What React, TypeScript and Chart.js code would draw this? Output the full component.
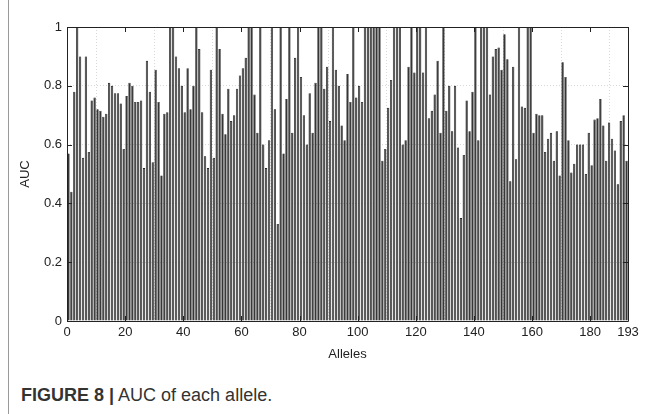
import React, { useEffect, useRef } from "react";
import { Chart, registerables } from "chart.js";

Chart.register(...registerables);

const aucValues: number[] = [
  0.57, 0.44, 0.78, 1.0, 0.9, 0.555, 0.9, 0.575, 0.75, 0.76, 0.72, 0.715, 0.695, 0.705, 0.81, 0.8, 0.775, 0.775, 0.74, 0.585, 0.765, 0.81, 0.8,
  0.745, 0.745, 0.75, 0.52, 0.885, 0.78, 0.54, 0.855, 0.745, 0.495, 0.705, 0.71, 1.0, 1.0, 0.9, 0.86, 0.8, 0.71, 0.86, 0.72, 0.8, 1.0, 0.925, 0.71, 0.56,
  0.52, 0.855, 0.555, 1.0, 0.925, 0.705, 0.635, 0.79, 0.68, 0.7, 0.79, 0.835, 0.86, 0.895, 1.0, 1.0, 0.77, 0.64, 1.0, 0.6, 0.52, 0.615, 1.0, 0.72, 0.33,
  1.0, 0.57, 0.755, 1.0, 0.64, 0.895, 1.0, 0.83, 0.7, 0.6, 0.775, 0.64, 0.81, 1.0, 1.0, 0.79, 0.865, 0.68, 1.0, 0.855, 0.8, 0.665, 0.615, 0.84, 0.745,
  1.0, 0.76, 0.8, 0.745, 1.0, 1.0, 1.0, 1.0, 1.0, 1.0, 0.545, 0.585, 0.725, 0.82, 1.0, 1.0, 1.0, 0.6, 0.615, 0.865, 1.0, 0.845, 1.0, 1.0, 0.845, 1.0,
  0.69, 0.715, 0.77, 0.885, 0.64, 1.0, 0.715, 0.8, 0.645, 0.8, 0.59, 0.35, 0.565, 0.75, 0.645, 0.78, 1.0, 0.615, 1.0, 1.0, 1.0, 0.77, 0.9,
  0.925, 0.93, 0.855, 0.975, 0.89, 0.475, 0.865, 0.55, 1.0, 0.73, 0.725, 1.0, 1.0, 0.64, 0.705, 0.7, 0.7, 0.575, 0.62, 0.64, 0.545, 0.645, 0.495, 0.88, 0.83,
  0.615, 0.505, 0.535, 0.6, 0.6, 0.6, 0.5, 0.64, 0.53, 0.685, 0.69, 0.755, 0.665, 0.545, 0.675, 0.62, 0.58, 0.465, 0.68, 0.7, 0.545,
];

const xTickValues: number[] = [0, 20, 40, 60, 80, 100, 120, 140, 160, 180, 193];
const yTickValues: number[] = [0, 0.2, 0.4, 0.6, 0.8, 1];
const xTitle = "Alleles";
const yTitle = "AUC";
const captionBold = "FIGURE 8 |";
const captionText = " AUC of each allele.";

const FONT = "'Liberation Sans', Arial, Helvetica, sans-serif";

const boxPlugin = {
  id: "matlabBox",
  afterDraw(chart: any) {
    const { ctx, chartArea } = chart;
    const { left, right, top, bottom } = chartArea;
    ctx.save();
    ctx.strokeStyle = "#222";
    ctx.lineWidth = 1;
    ctx.beginPath();
    ctx.rect(Math.round(left) + 0.5, Math.round(top) + 0.5, Math.round(right - left), Math.round(bottom - top));
    ctx.stroke();
    const xs = chart.scales.x;
    const ys = chart.scales.y;
    ctx.beginPath();
    xTickValues.forEach((v) => {
      const px = Math.round(xs.getPixelForValue(v)) + 0.5;
      ctx.moveTo(px, bottom);
      ctx.lineTo(px, bottom - 5);
      ctx.moveTo(px, top);
      ctx.lineTo(px, top + 5);
    });
    yTickValues.forEach((v) => {
      const py = Math.round(ys.getPixelForValue(v)) + 0.5;
      ctx.moveTo(left, py);
      ctx.lineTo(left + 5, py);
      ctx.moveTo(right, py);
      ctx.lineTo(right - 5, py);
    });
    ctx.stroke();
    ctx.restore();
  },
};

function AucChart() {
  const ref = useRef<HTMLCanvasElement | null>(null);
  useEffect(() => {
    document.body.style.margin = "0";
    const canvas = ref.current;
    if (!canvas) return;
    const data = aucValues.map((v, i) => ({ x: i + 0.5, y: v }));
    const chart = new Chart(canvas, {
      type: "bar",
      data: {
        datasets: [
          {
            data: data as any,
            backgroundColor: "#363636",
            borderColor: "#000000",
            borderWidth: 0.6,
            barPercentage: 0.8,
            categoryPercentage: 1,
          },
        ],
      },
      plugins: [boxPlugin],
      options: {
        responsive: false,
        animation: false,
        maintainAspectRatio: false,
        layout: { padding: { top: 27, right: 24, left: 18, bottom: 0 } },
        plugins: { legend: { display: false }, tooltip: { enabled: false } },
        scales: {
          x: {
            type: "linear",
            min: 0,
            max: 193,
            offset: false,
            afterBuildTicks: (scale: any) => {
              scale.ticks = xTickValues.map((v) => ({ value: v }));
            },
            afterFit: (scale: any) => {
              scale.height = 49;
            },
            grid: { color: "#d8d8d8", drawTicks: false, lineWidth: 1 },
            border: { display: false, dash: [1, 2] },
            ticks: {
              autoSkip: false,
              maxRotation: 0,
              padding: 4,
              color: "#222",
              font: { family: FONT, size: 13 },
              callback: (v: any) => String(v),
            },
            title: { display: true, text: xTitle, color: "#222", font: { family: FONT, size: 13 }, padding: { top: 0, bottom: 8 } },
          },
          y: {
            min: 0,
            max: 1,
            afterBuildTicks: (scale: any) => {
              scale.ticks = yTickValues.map((v) => ({ value: v }));
            },
            afterFit: (scale: any) => {
              scale.width = 49;
            },
            grid: { color: "#d8d8d8", drawTicks: false, lineWidth: 1 },
            border: { display: false, dash: [1, 2] },
            ticks: {
              padding: 5,
              color: "#222",
              font: { family: FONT, size: 13 },
              callback: (v: any) => String(Number(Number(v).toFixed(1))),
            },
            title: { display: true, text: yTitle, color: "#222", font: { family: FONT, size: 13 }, padding: { top: 0, bottom: 4 } },
          },
        },
      },
    });
    return () => chart.destroy();
  }, []);
  return <canvas ref={ref} width={652} height={370} style={{ position: "absolute", left: 0, top: 0 }} />;
}

export default function App() {
  return (
    <div style={{ position: "relative", width: 652, height: 414, background: "#fff", overflow: "hidden" }}>
      <div style={{ position: "absolute", left: 8, top: 0, width: 1, height: 414, background: "#9a9a9a" }} />
      <AucChart />
      <div
        style={{
          position: "absolute",
          left: 21,
          top: 385,
          fontFamily: FONT,
          fontSize: 18,
          lineHeight: "21px",
          color: "#333",
          whiteSpace: "nowrap",
        }}
      >
        <span style={{ fontWeight: "bold" }}>{captionBold}</span>
        <span>{captionText}</span>
      </div>
    </div>
  );
}
